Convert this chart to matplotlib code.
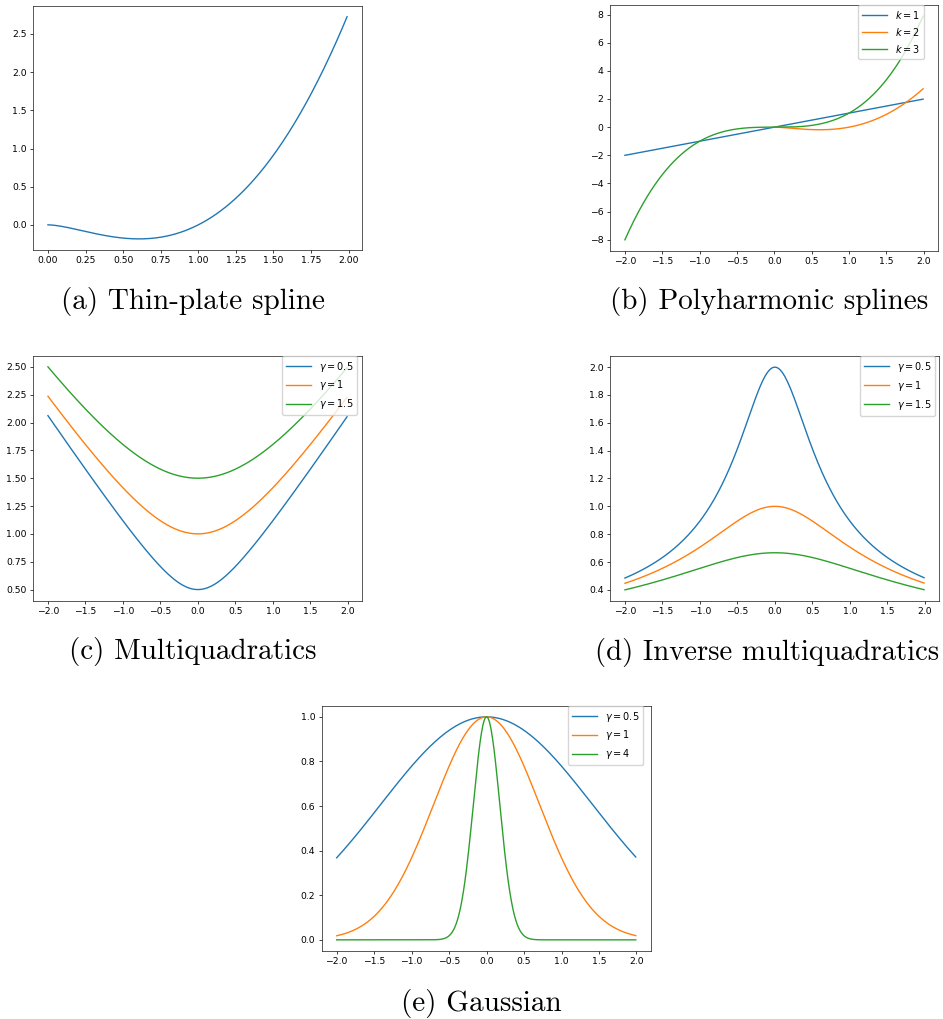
import numpy as np
import matplotlib
matplotlib.use("Agg")
import matplotlib.pyplot as plt

# ---- data / parameters ----
poly_k = [1, 2, 3]
mq_gammas = [0.5, 1, 1.5]
imq_gammas = [0.5, 1, 1.5]
gauss_gammas = [0.5, 1, 4]
x_min, x_max, x_step = -2.0, 2.0, 0.01
r_min, r_max = 0.0, 2.0
captions = ["(a) Thin-plate spline", "(b) Polyharmonic splines",
            "(c) Multiquadratics", "(d) Inverse multiquadratics", "(e) Gaussian"]

S = 0.663  # scale of the embedded matplotlib figures
plt.rcParams.update({
    "font.size": 10 * S,
    "lines.linewidth": 1.5 * S,
    "axes.linewidth": 0.8 * S,
    "xtick.major.size": 3.5 * S,
    "ytick.major.size": 3.5 * S,
    "xtick.major.width": 0.8 * S,
    "ytick.major.width": 0.8 * S,
    "xtick.major.pad": 3.5 * S,
    "ytick.major.pad": 3.5 * S,
    "legend.fontsize": 7.0,
    "axes.edgecolor": "#222222",
})

W, H = 943, 1019
fig = plt.figure(figsize=(W / 100, H / 100), dpi=100)


def add_ax(x0, x1, y0, y1):
    return fig.add_axes([x0 / W, 1 - y1 / H, (x1 - x0) / W, (y1 - y0) / H])


def legend(ax, xanchor):
    ax.legend(loc="upper right", bbox_to_anchor=(xanchor, 1.0), borderaxespad=0.0,
              handlelength=2.6)


x = np.arange(x_min, x_max, x_step)
r = np.arange(r_min, r_max, x_step)

# (a) thin-plate spline
ax = add_ax(33, 362, 5.7, 250)
with np.errstate(divide="ignore", invalid="ignore"):
    tps = np.where(r > 0, r ** 2 * np.log(np.where(r > 0, r, 1)), 0.0)
ax.plot(r, tps)

# (b) polyharmonic splines
ax = add_ax(610, 938, 5, 251)
with np.errstate(divide="ignore", invalid="ignore"):
    for k in poly_k:
        if k % 2 == 1:
            y = x ** k
        else:
            y = x ** k * np.log(x)
        ax.plot(x, y, label=rf"$k = {k}$")
ax.set_yticks([-8, -6, -4, -2, 0, 2, 4, 6, 8])
legend(ax, 0.957)

# (c) multiquadratics
ax = add_ax(33, 362, 355.7, 600.7)
for g in mq_gammas:
    ax.plot(x, np.sqrt(x ** 2 + g ** 2), label=rf"$\gamma = {g}$")
legend(ax, 0.986)

# (d) inverse multiquadratics
ax = add_ax(610, 939, 356, 601)
for g in imq_gammas:
    ax.plot(x, 1 / np.sqrt(x ** 2 + g ** 2), label=rf"$\gamma = {g}$")
legend(ax, 0.988)

# (e) Gaussian
ax = add_ax(321.7, 650.7, 705.7, 951)
for g in gauss_gammas:
    ax.plot(x, np.exp(-(g * x) ** 2), label=rf"$\gamma = {g}$")
legend(ax, 0.978)

# captions
cap_pos = [(193, 302), (769, 302), (192.5, 652), (767, 652), (481, 1004)]
for (cx, cy), c in zip(cap_pos, captions):
    fig.text(cx / W, 1 - cy / H, c, family="cmr10", fontsize=21 if cx != 767 else 20.7,
             ha="center", va="center")

fig.savefig("out.png", dpi=100)
